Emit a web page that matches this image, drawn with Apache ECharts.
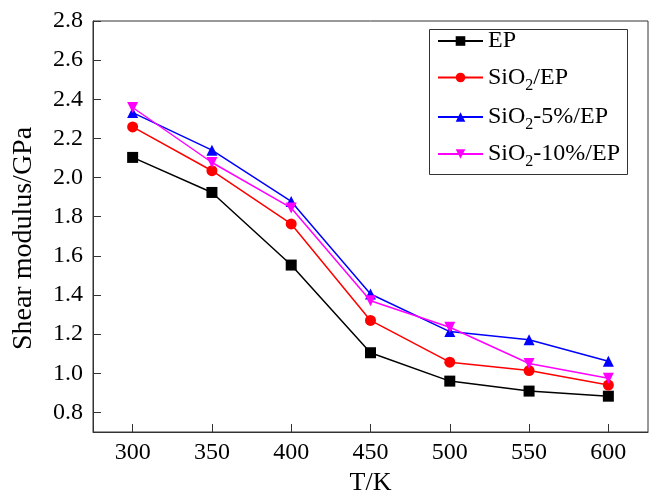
<!DOCTYPE html>
<html>
<head>
<meta charset="utf-8">
<script src="https://cdn.jsdelivr.net/npm/echarts@6.0.0/dist/echarts.min.js"></script>
<style>html,body{margin:0;padding:0;background:#fff;}#c{width:657px;height:497px;}</style>
</head>
<body>
<div id="c"></div>
<script>
const temps = [300, 350, 400, 450, 500, 550, 600];
const seriesNames = ['EP', 'SiO2/EP', 'SiO2-5%/EP', 'SiO2-10%/EP'];
const epVals = [2.103, 1.924, 1.553, 1.105, 0.960, 0.909, 0.883];
const sio2Vals = [2.259, 2.035, 1.763, 1.270, 1.057, 1.014, 0.940];
const sio2p5Vals = [2.332, 2.140, 1.878, 1.405, 1.213, 1.171, 1.062];
const sio2p10Vals = [2.358, 2.077, 1.845, 1.371, 1.235, 1.050, 0.975];
const yTicks = [0.8, 1.0, 1.2, 1.4, 1.6, 1.8, 2.0, 2.2, 2.4, 2.6, 2.8];
const xTicks = [300, 350, 400, 450, 500, 550, 600];

const FONT = 'Liberation Serif';
const chart = echarts.init(document.getElementById('c'));

function pairs(vals) { return temps.map((t, i) => [t, vals[i]]); }

const styles = [
  { color: '#000000', symbol: 'rect', rotate: 0 },
  { color: '#ff0000', symbol: 'circle', rotate: 0 },
  { color: '#0000ff', symbol: 'triangle', rotate: 0 },
  { color: '#ff00ff', symbol: 'triangle', rotate: 180 }
];
const allVals = [epVals, sio2Vals, sio2p5Vals, sio2p10Vals];
const legendCenters = [45, 77.5, 117, 154];

function fmt(name) {
  if (name.indexOf('SiO2') === 0) {
    return '{a|SiO}{s|2}{a|' + name.slice(4) + '}';
  }
  return '{a|' + name + '}';
}
const rich = {
  a: { fontFamily: FONT, fontSize: 24, color: '#000', lineHeight: 32, verticalAlign: 'middle' },
  s: { fontFamily: FONT, fontSize: 16, color: '#000', lineHeight: 16, padding: [16, 0, 0, 0], verticalAlign: 'bottom' }
};

const legends = seriesNames.map((n, i) => ({
  data: [n],
  left: 437,
  top: legendCenters[i] - 16,
  padding: 0,
  itemWidth: 45,
  itemHeight: 12,
  itemGap: 0,
  formatter: fmt,
  textStyle: { rich: rich, fontFamily: FONT, fontSize: 24, color: '#000' }
}));

const option = {
  backgroundColor: '#fff',
  animation: false,
  grid: { left: 93, right: 9, top: 21, bottom: 65, containLabel: false, outerBoundsMode: 'none',
    show: true, borderColor: '#333', borderWidth: 1, backgroundColor: 'transparent' },
  legend: legends,
  graphic: [{
    type: 'rect', left: 429, top: 29, z: 0,
    shape: { width: 198, height: 145 },
    style: { fill: '#fff', stroke: '#333', lineWidth: 1 }
  }],
  xAxis: {
    type: 'value', min: 275, max: 625,
    name: 'T/K', nameLocation: 'middle', nameGap: 35,
    nameTextStyle: { fontFamily: FONT, fontSize: 26, color: '#000' },
    axisLine: { show: true, lineStyle: { color: '#333', width: 1 } },
    axisTick: { show: true, inside: true, length: 8, customValues: xTicks, lineStyle: { color: '#333' } },
    axisLabel: { customValues: xTicks, fontFamily: FONT, fontSize: 24, color: '#000', margin: 9 },
    splitLine: { show: false }
  },
  yAxis: {
    type: 'value', min: 0.7, max: 2.8,
    name: 'Shear modulus/GPa', nameLocation: 'middle', nameGap: 55, nameRotate: 90,
    nameTextStyle: { fontFamily: FONT, fontSize: 28, color: '#000', padding: [0, 24, 0, 0] },
    axisLine: { show: true, lineStyle: { color: '#333', width: 1 } },
    axisTick: { show: true, inside: true, length: 8, customValues: yTicks, lineStyle: { color: '#333' } },
    axisLabel: { customValues: yTicks, fontFamily: FONT, fontSize: 24, color: '#000', margin: 10,
      formatter: v => v.toFixed(1) },
    splitLine: { show: false }
  },
  series: seriesNames.map((n, i) => ({
    name: n,
    type: 'line',
    data: pairs(allVals[i]),
    symbol: styles[i].symbol,
    symbolRotate: styles[i].rotate,
    symbolSize: 11,
    showAllSymbol: true,
    lineStyle: { color: styles[i].color, width: 1.5 },
    itemStyle: { color: styles[i].color },
    z: 3 + i
  }))
};
chart.setOption(option);
</script>
</body>
</html>
